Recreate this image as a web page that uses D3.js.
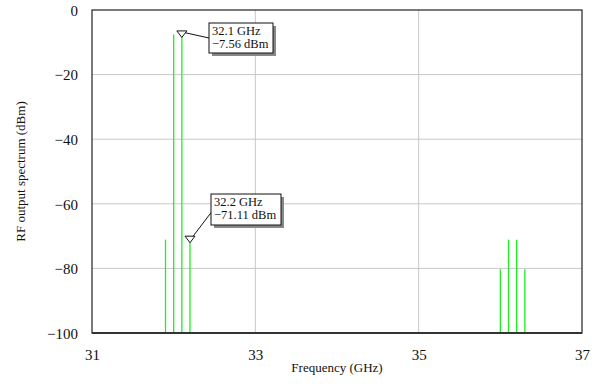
<!DOCTYPE html>
<html><head><meta charset="utf-8">
<script src="https://cdn.jsdelivr.net/npm/d3@7"></script>
<style>body{margin:0;background:#fff}svg{display:block}</style>
</head><body>
<svg id="c" width="599" height="387"></svg>
<script>
const freqs = [31.9, 32.0, 32.1, 32.2, 36.0, 36.1, 36.2, 36.3];
const powers = [-71.1, -7.56, -7.56, -71.11, -80.3, -71.1, -71.1, -80.3];
const xTicks = [31, 33, 35, 37];
const yTicks = [0, -20, -40, -60, -80, -100];
const markerFreqs = [32.1, 32.2];
const markerPowers = [-7.56, -71.11];
const markerLabels = [["32.1 GHz", "\u22127.56 dBm"], ["32.2 GHz", "\u221271.11 dBm"]];

const FONT = "'Liberation Serif', serif";
const svg = d3.select("#c");
const L = 92, R = 582, T = 10, B = 333;
const x = d3.scaleLinear().domain([31, 37]).range([L, R]);
const y = d3.scaleLinear().domain([-100, 0]).range([B, T]);

// grid
svg.append("g").selectAll("line").data(xTicks.slice(1, -1)).join("line")
  .attr("x1", d => x(d)).attr("x2", d => x(d)).attr("y1", T).attr("y2", B)
  .attr("stroke", "#c8c8c8").attr("stroke-width", 1);
svg.append("g").selectAll("line").data(yTicks.slice(1, -1)).join("line")
  .attr("y1", d => y(d)).attr("y2", d => y(d)).attr("x1", L).attr("x2", R)
  .attr("stroke", "#c8c8c8").attr("stroke-width", 1);

// spectral lines
svg.append("g").selectAll("line").data(freqs).join("line")
  .attr("x1", d => x(d)).attr("x2", d => x(d))
  .attr("y1", B).attr("y2", (d, i) => y(powers[i]))
  .attr("stroke", "#1ef01e").attr("stroke-width", 1.3);

// frame
svg.append("rect").attr("x", L).attr("y", T).attr("width", R - L).attr("height", B - T)
  .attr("fill", "none").attr("stroke", "#222").attr("stroke-width", 1.2);
svg.append("line").attr("x1", L).attr("x2", R).attr("y1", B).attr("y2", B)
  .attr("stroke", "#333").attr("stroke-width", 1.8);

// axes
const xAxis = d3.axisBottom(x).tickValues(xTicks).tickSize(0).tickPadding(0).tickFormat(d3.format("d"));
const gx = svg.append("g").attr("transform", `translate(0,${B})`).call(xAxis)
  .attr("font-family", FONT).attr("font-size", 15);
gx.select(".domain").remove();
gx.selectAll("text").attr("y", 27).attr("dy", 0).attr("fill", "#111")
  .attr("style", `font-family:${FONT};font-size:15px`);

const yAxis = d3.axisLeft(y).tickValues(yTicks).tickSize(0).tickPadding(0)
  .tickFormat(d => d === 0 ? "0" : "\u2212" + Math.abs(d));
const gy = svg.append("g").attr("transform", `translate(${L},0)`).call(yAxis)
  .attr("font-family", FONT).attr("font-size", 15);
gy.select(".domain").remove();
gy.selectAll("text").attr("x", -14).attr("dy", "0.35em").attr("fill", "#111")
  .attr("style", `font-family:${FONT};font-size:15px`);

svg.append("text").attr("x", (L + R) / 2).attr("y", 372).attr("text-anchor", "middle")
  .attr("fill", "#111").attr("style", `font-family:${FONT};font-size:13px`).text("Frequency (GHz)");
svg.append("text").attr("transform", `translate(25,${(T + B) / 2}) rotate(-90)`)
  .attr("text-anchor", "middle").attr("fill", "#111")
  .attr("style", `font-family:${FONT};font-size:13px`).text("RF output spectrum (dBm)");

// markers
const boxes = [
  {bx: 209, by: 23, w: 64, h: 30, lx: 209, ly: 38},
  {bx: 211, by: 194, w: 70, h: 31, lx: 213, ly: 210}
];
markerFreqs.forEach((f, i) => {
  const px = x(f), py = y(markerPowers[i]);
  const b = boxes[i];
  svg.append("line").attr("x1", px + 2).attr("y1", py - 2).attr("x2", b.lx).attr("y2", b.ly)
    .attr("stroke", "#111").attr("stroke-width", 1);
  svg.append("path").attr("d", `M${px - 5},${py - 3.5} L${px + 5},${py - 3.5} L${px},${py + 3} Z`)
    .attr("fill", "#fff").attr("stroke", "#111").attr("stroke-width", 1);
  svg.append("rect").attr("x", b.bx + 3).attr("y", b.by + 3).attr("width", b.w).attr("height", b.h)
    .attr("fill", "#888");
  svg.append("rect").attr("x", b.bx).attr("y", b.by).attr("width", b.w).attr("height", b.h)
    .attr("fill", "#fff").attr("stroke", "#111").attr("stroke-width", 1);
  markerLabels[i].forEach((t, j) => {
    svg.append("text").attr("x", b.bx + 3).attr("y", b.by + 12 + j * 13).attr("fill", "#111")
      .attr("style", `font-family:${FONT};font-size:12.5px`).text(t);
  });
});
</script>
</body></html>
